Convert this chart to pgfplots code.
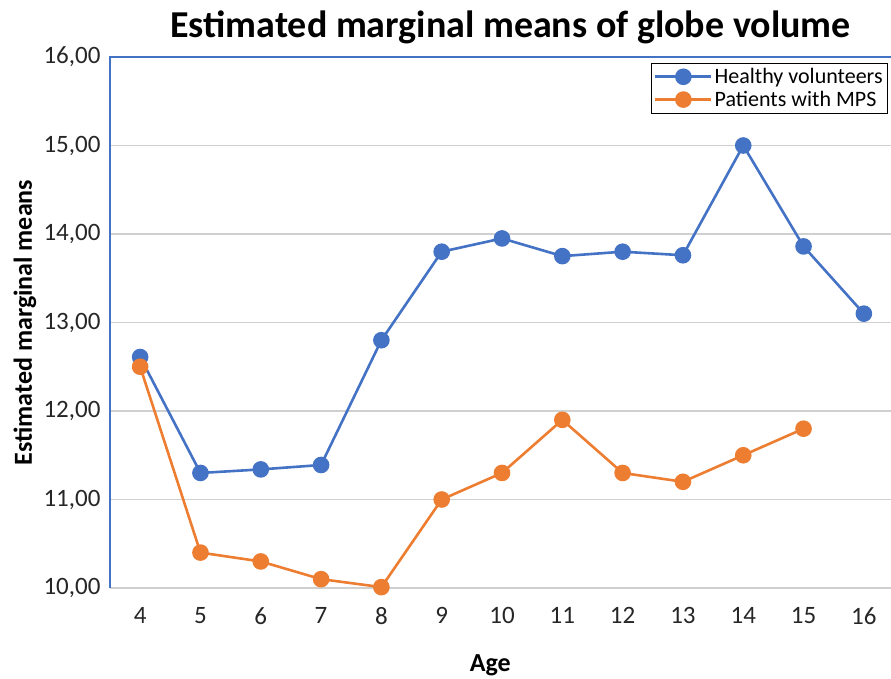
\documentclass[border=0pt]{standalone}
\usepackage{fontspec}
\setmainfont{Carlito}
\usepackage{pgfplots}
\pgfplotsset{compat=1.18}
\definecolor{cblue}{HTML}{4472C4}
\definecolor{corange}{HTML}{ED7D31}
\definecolor{cgrid}{HTML}{D0D0D0}
\begin{document}
\begin{tikzpicture}
\begin{axis}[
  scale only axis,
  width=781pt, height=531pt,
  xmin=3.5, xmax=16.45,
  ymin=10, ymax=16,
  xtick={4,5,...,16},
  xticklabels={4,5,6,7,8,9,10,11,12,13,14,15,16},
  ytick={10,11,...,16},
  ymajorgrids, grid style={cgrid, line width=1.2pt},
  major tick length=0pt,
  axis line style={draw=none},
  /pgf/number format/fixed, /pgf/number format/fixed zerofill, /pgf/number format/precision=2,
  /pgf/number format/use comma, /pgf/number format/assume math mode=true,
  tick label style={font=\fontsize{25}{30}\selectfont, text=black!85},
  yticklabel style={xshift=-6pt},
  xticklabel style={yshift=-16pt},
  title={\bfseries Estimated marginal means of globe volume},
  title style={font=\fontsize{38}{44}\selectfont, at={(0.513,1)}, anchor=south, yshift=4pt},
  ylabel={\bfseries Estimated marginal means},
  ylabel style={font=\fontsize{26}{30}\selectfont, at={(axis description cs:-0.109,0.5)}, anchor=center, rotate=0},
  xlabel={\bfseries Age},
  xlabel style={font=\fontsize{26}{30}\selectfont, at={(axis description cs:0.487,-0.146)}, anchor=center},
  legend style={at={(1,1)}, anchor=north east, xshift=-3pt, yshift=-6pt,
    font=\fontsize{22}{26}\selectfont, draw=black, line width=0.8pt,
    inner sep=3pt, row sep=2pt, legend cell align=left},
  legend image code/.code={
    \draw[#1, mark=none] (0pt,0pt) -- (56pt,0pt);
    \draw[#1, only marks] plot coordinates {(28pt,0pt)};
  },
  clip=false,
]
\addplot[cblue, line width=2.6pt, mark=*, mark size=7pt, mark options={fill=cblue, draw=cblue}] coordinates {
(4,12.61) (5,11.30) (6,11.34) (7,11.39) (8,12.80) (9,13.80) (10,13.95) (11,13.75) (12,13.80) (13,13.76) (14,15.00) (15,13.86) (16,13.10)};
\addlegendentry{Healthy volunteers}
\addplot[corange, line width=2.6pt, mark=*, mark size=7pt, mark options={fill=corange, draw=corange}] coordinates {
(4,12.50) (5,10.40) (6,10.30) (7,10.10) (8,10.01) (9,11.00) (10,11.30) (11,11.90) (12,11.30) (13,11.20) (14,11.50) (15,11.80)};
\addlegendentry{Patients with MPS}
\draw[cblue, line width=1.2pt] (rel axis cs:0,0) -- (rel axis cs:0,1) -- (rel axis cs:1,1);
\coordinate (bl) at (rel axis cs:0,0);
\end{axis}
\pgfresetboundingbox
\path[use as bounding box] (bl) ++(-110pt,-90pt) rectangle ++(891pt,678pt);
\end{tikzpicture}
\end{document}
